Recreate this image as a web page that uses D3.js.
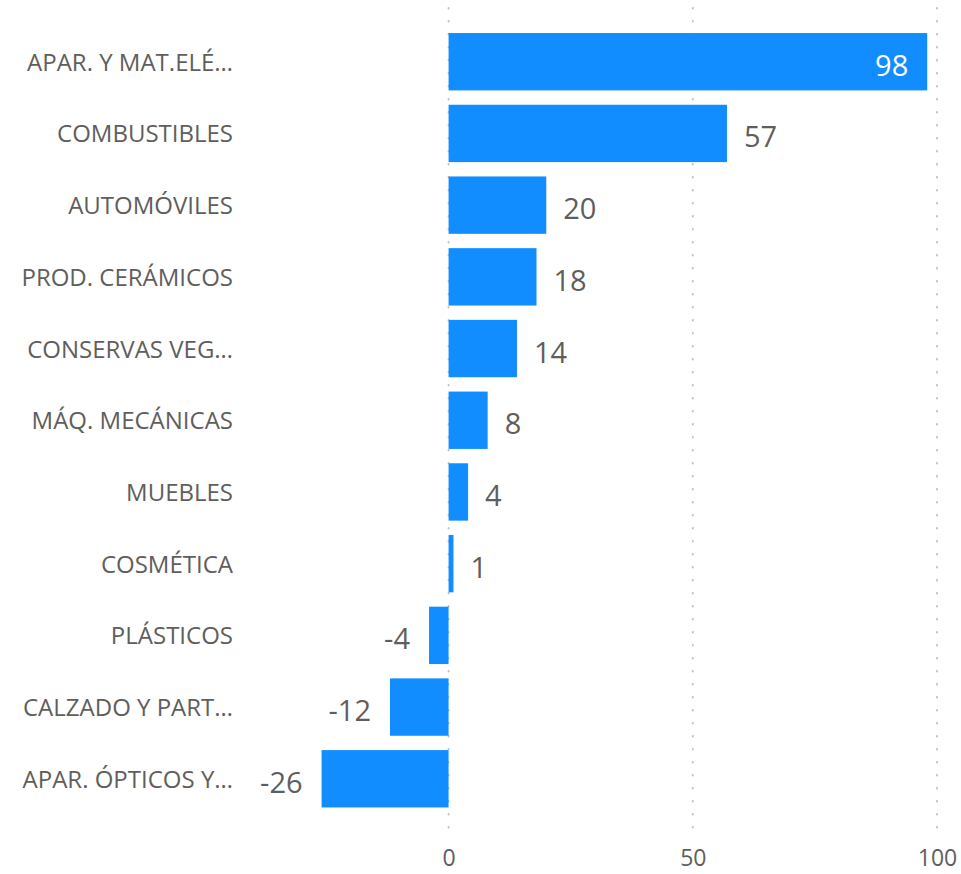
<!DOCTYPE html>
<html>
<head>
<meta charset="utf-8">
<script src="https://cdn.jsdelivr.net/npm/d3@7"></script>
<style>
  body { margin: 0; background: #fff; }
  svg text { font-family: "Segoe UI", "Open Sans", sans-serif; fill: #605e5c; }
</style>
</head>
<body>
<svg id="drawing_region"></svg>
<script>
const categories = [
    "APAR. Y MAT.ELÉ…",
    "COMBUSTIBLES",
    "AUTOMÓVILES",
    "PROD. CERÁMICOS",
    "CONSERVAS VEG…",
    "MÁQ. MECÁNICAS",
    "MUEBLES",
    "COSMÉTICA",
    "PLÁSTICOS",
    "CALZADO Y PART…",
    "APAR. ÓPTICOS Y…"
];
const values = [98, 57, 20, 18, 14, 8, 4, 1, -4, -12, -26];
const xticks = [0, 50, 100];

const data = categories.map((c, i) => ({ name: c, value: values[i] }));

const width = 961, height = 874;

const svg = d3.select('#drawing_region')
    .attr('width', width)
    .attr('height', height);

// x: 0 -> 448.5, 100 -> 937
const xscale = d3.scaleLinear()
    .domain([-30.4, 100])
    .range([300.1, 937]);

const yscale = d3.scaleBand()
    .domain(categories)
    .range([18.7, 821.8])
    .paddingInner(0.2)
    .paddingOuter(0.2);

// dotted grid lines
svg.append('g')
    .selectAll('line')
    .data(xticks)
    .enter()
    .append('line')
    .attr('x1', d => xscale(d))
    .attr('x2', d => xscale(d))
    .attr('y1', 8)
    .attr('y2', 836)
    .attr('stroke', '#c2c2c2')
    .attr('stroke-width', 2)
    .attr('stroke-linecap', 'round')
    .attr('stroke-dasharray', '0.5,12.5');

// bars
svg.append('g')
    .selectAll('rect')
    .data(data)
    .enter()
    .append('rect')
    .attr('x', d => xscale(Math.min(0, d.value)))
    .attr('y', d => yscale(d.name))
    .attr('width', d => Math.abs(xscale(d.value) - xscale(0)))
    .attr('height', yscale.bandwidth())
    .attr('fill', '#118dff');

// category labels
svg.append('g')
    .selectAll('text')
    .data(data)
    .enter()
    .append('text')
    .attr('x', 233)
    .attr('y', d => yscale(d.name) + yscale.bandwidth() / 2 + 9)
    .attr('text-anchor', 'end')
    .attr('font-size', 24)
    .text(d => d.name);

// value labels
svg.append('g')
    .selectAll('text')
    .data(data)
    .enter()
    .append('text')
    .attr('x', d => {
        if (d.value >= 90) return xscale(d.value) - 19;
        if (d.value < 0) return xscale(d.value) - 19;
        return xscale(d.value) + 17;
    })
    .attr('y', d => yscale(d.name) + yscale.bandwidth() / 2 + 14)
    .attr('text-anchor', d => (d.value >= 90 || d.value < 0) ? 'end' : 'start')
    .attr('font-size', 29)
    .style('fill', d => d.value >= 90 ? '#ffffff' : '#605e5c')
    .text(d => d.value);

// x axis
const xaxis = d3.axisBottom(xscale)
    .tickValues(xticks)
    .tickSize(0)
    .tickPadding(0);

const xaxis_group = svg.append('g')
    .attr('transform', `translate(0, 850)`)
    .call(xaxis);

xaxis_group.select('.domain').remove();
xaxis_group.selectAll('text')
    .attr('font-size', 23)
    .attr('dy', '0.71em')
    .attr('y', 0)
    .style('fill', '#605e5c')
    .attr('font-family', '"Segoe UI", "Open Sans", sans-serif');
</script>
</body>
</html>
